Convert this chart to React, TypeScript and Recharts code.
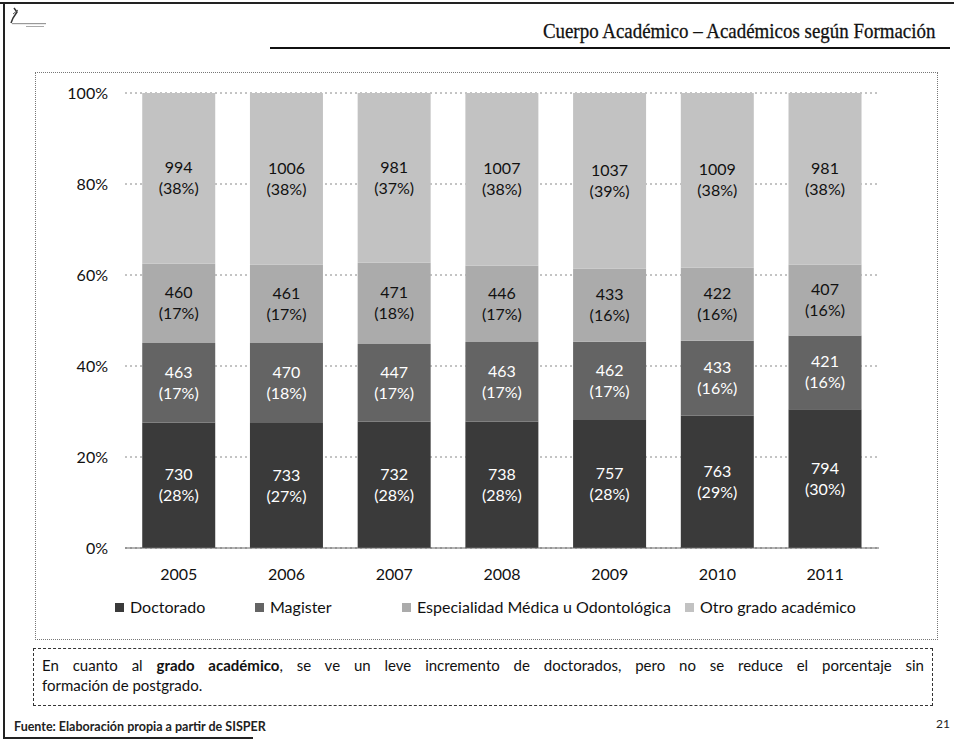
import React from "react";
import { BarChart, Bar, XAxis, YAxis, CartesianGrid, Legend, LabelList } from "recharts";

const years = ["2005", "2006", "2007", "2008", "2009", "2010", "2011"];
const doctorado = [730, 733, 732, 738, 757, 763, 794];
const magister = [463, 470, 447, 463, 462, 433, 421];
const especialidad = [460, 461, 471, 446, 433, 422, 407];
const otro = [994, 1006, 981, 1007, 1037, 1009, 981];
const doctoradoPct = [28, 27, 28, 28, 28, 29, 30];
const magisterPct = [17, 18, 17, 17, 17, 16, 16];
const especialidadPct = [17, 17, 18, 17, 16, 16, 16];
const otroPct = [38, 38, 37, 38, 39, 38, 38];
const yTicks = [0, 0.2, 0.4, 0.6, 0.8, 1];

const FONT = "Lato, sans-serif";

const series = [
  { key: "doctorado", name: "Doctorado", color: "#3a3a3a", text: "#fff", counts: doctorado, pct: doctoradoPct, w: 140 },
  { key: "magister", name: "Magister", color: "#646464", text: "#fff", counts: magister, pct: magisterPct, w: 147 },
  { key: "especialidad", name: "Especialidad Médica u Odontológica", color: "#ababab", text: "#111", counts: especialidad, pct: especialidadPct, w: 283 },
  { key: "otro", name: "Otro grado académico", color: "#c2c2c2", text: "#111", counts: otro, pct: otroPct, w: 220 },
];

const data = years.map((year, i) => ({
  year,
  doctorado: doctorado[i],
  magister: magister[i],
  especialidad: especialidad[i],
  otro: otro[i],
}));

const makeLabel = (counts: number[], pct: number[], color: string) => (props: any) => {
  const { x, y, width, height, index } = props;
  const cx = Number(x) + Number(width) / 2;
  const cy = Number(y) + Number(height) / 2;
  return (
    <text textAnchor="middle" fill={color} fontSize={16} fontFamily={FONT}>
      <tspan x={cx} y={cy - 5}>{counts[index]}</tspan>
      <tspan x={cx} y={cy + 16}>({pct[index]}%)</tspan>
    </text>
  );
};

const renderLegend = () => (
  <div
    style={{
      display: "flex",
      paddingLeft: 79,
      fontFamily: FONT,
      fontSize: 16,
      lineHeight: "20px",
      color: "#111",
    }}
  >
    {series.map((s) => (
      <span key={s.key} style={{ display: "flex", alignItems: "center", width: s.w, whiteSpace: "nowrap" }}>
        <span style={{ width: 9, height: 9, background: s.color, marginRight: 6, display: "inline-block" }} />
        {s.name}
      </span>
    ))}
  </div>
);

export default function App() {
  return (
    <div
      style={{
        position: "absolute",
        left: 0,
        top: 0,
        width: 954,
        height: 740,
        background: "#fff",
        overflow: "hidden",
        fontFamily: FONT,
      }}
    >
      {/* page frame */}
      <div style={{ position: "absolute", left: 0, top: 2, width: 954, height: 2, background: "#222" }} />
      <div style={{ position: "absolute", left: 3, top: 2, width: 2, height: 737, background: "#222" }} />
      <div style={{ position: "absolute", left: 3, top: 737, width: 250, height: 2, background: "#222" }} />

      {/* logo */}
      <svg style={{ position: "absolute", left: 8, top: 6 }} width={44} height={24}>
        <path d="M6 2 L9 6 L5 12 L3 17" stroke="#333" strokeWidth={1.5} fill="none" />
        <path d="M5 8 L10 4" stroke="#555" strokeWidth={1} />
        <rect x={4} y={17} width={34} height={1.2} fill="#999" />
        <rect x={18} y={20} width={18} height={1} fill="#aaa" />
      </svg>

      {/* title */}
      <div
        style={{
          position: "absolute",
          right: 19,
          top: 19,
          fontFamily: "'Liberation Serif', serif",
          fontSize: 22,
          lineHeight: "24px",
          color: "#111",
          whiteSpace: "nowrap",
          transform: "scaleX(0.86)",
          transformOrigin: "right center",
          WebkitTextStroke: "0.3px #111",
        }}
      >
        Cuerpo Académico – Académicos según Formación
      </div>
      <div style={{ position: "absolute", left: 270, top: 47, width: 680, height: 2, background: "#111" }} />

      {/* chart box */}
      <div
        style={{
          position: "absolute",
          left: 35,
          top: 72,
          width: 903,
          height: 568,
          border: "1px dotted #777",
          boxSizing: "border-box",
        }}
      >
        <BarChart
          width={901}
          height={566}
          data={data}
          stackOffset="expand"
          barCategoryGap="16%"
          margin={{ top: 20, right: 58, left: 0, bottom: 22 }}
        >
          <CartesianGrid vertical={false} stroke="#888" strokeDasharray="2 3" />
          <XAxis
            dataKey="year"
            tickLine={false}
            axisLine={{ stroke: "#666" }}
            tickMargin={15}
            height={49}
            tick={{ fill: "#111", fontSize: 16, fontFamily: FONT }}
          />
          <YAxis
            ticks={yTicks}
            domain={[0, 1]}
            width={89}
            tickLine={false}
            axisLine={false}
            tickMargin={11}
            tickFormatter={(v: number) => `${Math.round(v * 100)}%`}
            tick={{ fill: "#111", fontSize: 16, fontFamily: FONT }}
          />
          <Legend verticalAlign="bottom" content={renderLegend} wrapperStyle={{ left: 0, width: 901 }} />
          {series.map((s) => (
            <Bar key={s.key} dataKey={s.key} name={s.name} stackId="a" fill={s.color} isAnimationActive={false}>
              <LabelList dataKey={s.key} content={makeLabel(s.counts, s.pct, s.text)} />
            </Bar>
          ))}
        </BarChart>
      </div>

      {/* comment box */}
      <div
        style={{
          position: "absolute",
          left: 33,
          top: 648,
          width: 900,
          height: 58,
          border: "1px dashed #333",
          boxSizing: "border-box",
          padding: "6px 8px 0 8px",
          fontSize: 15,
          lineHeight: "20px",
          color: "#111",
        }}
      >
        <div style={{ textAlign: "justify", textAlignLast: "justify" }}>
          En cuanto al <b>grado académico</b>, se ve un leve incremento de doctorados, pero no se reduce el porcentaje sin
        </div>
        <div>formación de postgrado.</div>
      </div>

      <div style={{ position: "absolute", left: 14, top: 719, fontSize: 12.5, fontWeight: "bold", color: "#222" }}>
        Fuente: Elaboración propia a partir de SISPER
      </div>
      <div style={{ position: "absolute", right: 4, top: 716, fontSize: 12, color: "#222" }}>21</div>
    </div>
  );
}
